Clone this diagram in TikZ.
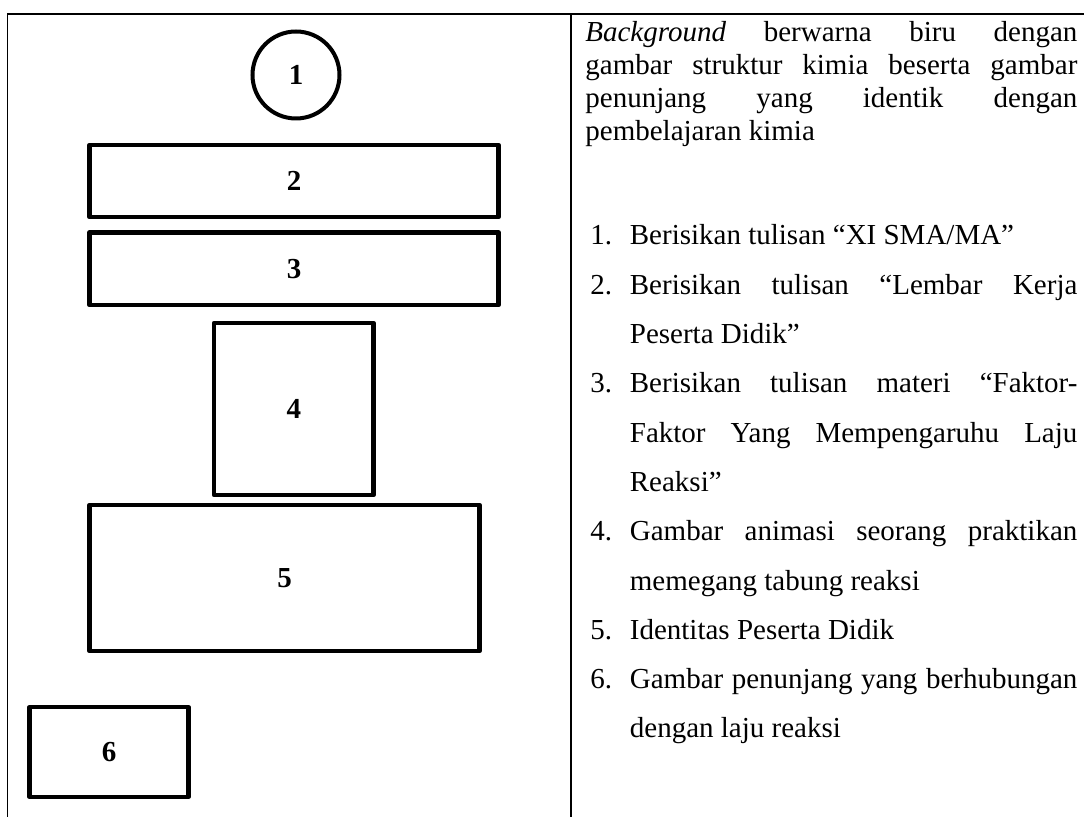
\documentclass[tikz,border=0pt]{standalone}
\usepackage{fontspec}
\setmainfont{Liberation Serif}
\begin{document}
\begin{tikzpicture}[x=0.5pt,y=-0.5pt,
  frame/.style={line width=0.85pt},
  part/.style={draw, rectangle, line width=2.25pt, line join=round, inner sep=0pt,
               font=\fontsize{14.5}{17}\selectfont\bfseries},
  disc/.style={draw, circle, line width=2pt, inner sep=0pt,
               font=\fontsize{14.5}{17}\selectfont\bfseries},
  txt/.style={anchor=base west, inner sep=0pt, font=\fontsize{14.5}{17}\selectfont}]
\useasboundingbox (0,0) rectangle (1084,817);

% table frame
\coordinate (tl) at (7.5,14);
\coordinate (tr) at (1084,14);
\coordinate (bl) at (7.5,817);
\coordinate (mt) at (571,14);
\coordinate (mb) at (571,817);
\draw[frame] (bl) -- (tl) -- (tr);
\draw[frame] (mt) -- (mb);

% layout sketch
\node[disc, minimum size=43.5pt] (c1) at (296,75) {1};
\node[part, minimum width=204.5pt, minimum height=36pt] (b2) at (294,181) {2};
\node[part, minimum width=204.5pt, minimum height=36.25pt] (b3) at (294,268.75) {3};
\node[part, minimum width=79.85pt, minimum height=86pt] (b4) at (293.8,409) {4};
\node[part, minimum width=195pt, minimum height=73pt] (b5) at (284.6,578) {5};
\node[part, minimum width=79.5pt, minimum height=44.85pt] (b6) at (109,752) {6};

% description
\newcommand\fullline[1]{\makebox[246pt][s]{#1}}
\newcommand\itemline[1]{\makebox[223.75pt][s]{#1}}
\node[txt] (p1) at (585,42) {\fullline{\textit{Background} berwarna biru dengan}};
\node[txt] (p2) at (585,74.7) {\fullline{gambar struktur kimia beserta gambar}};
\node[txt] (p3) at (585,107.4) {\fullline{penunjang yang identik dengan}};
\node[txt] (p4) at (585,140.1) {pembelajaran kimia};

\node[txt] (n1) at (590,245) {1.};
\node[txt] (i1) at (629.5,245) {Berisikan tulisan “XI SMA/MA”};
\node[txt] (n2) at (590,294.3) {2.};
\node[txt] (i2a) at (629.5,294.3) {\itemline{Berisikan tulisan “Lembar Kerja}};
\node[txt] (i2b) at (629.5,343.6) {Peserta Didik”};
\node[txt] (n3) at (590,392.9) {3.};
\node[txt] (i3a) at (629.5,392.9) {\itemline{Berisikan tulisan materi “Faktor-}};
\node[txt] (i3b) at (629.5,442.2) {\itemline{Faktor Yang Mempengaruhu Laju}};
\node[txt] (i3c) at (629.5,491.5) {Reaksi”};
\node[txt] (n4) at (590,540.8) {4.};
\node[txt] (i4a) at (629.5,540.8) {\itemline{Gambar animasi seorang praktikan}};
\node[txt] (i4b) at (629.5,590.1) {memegang tabung reaksi};
\node[txt] (n5) at (590,639.4) {5.};
\node[txt] (i5) at (629.5,639.4) {Identitas Peserta Didik};
\node[txt] (n6) at (590,688.7) {6.};
\node[txt] (i6a) at (629.5,688.7) {\itemline{Gambar penunjang yang berhubungan}};
\node[txt] (i6b) at (629.5,738) {dengan laju reaksi};
\end{tikzpicture}
\end{document}
